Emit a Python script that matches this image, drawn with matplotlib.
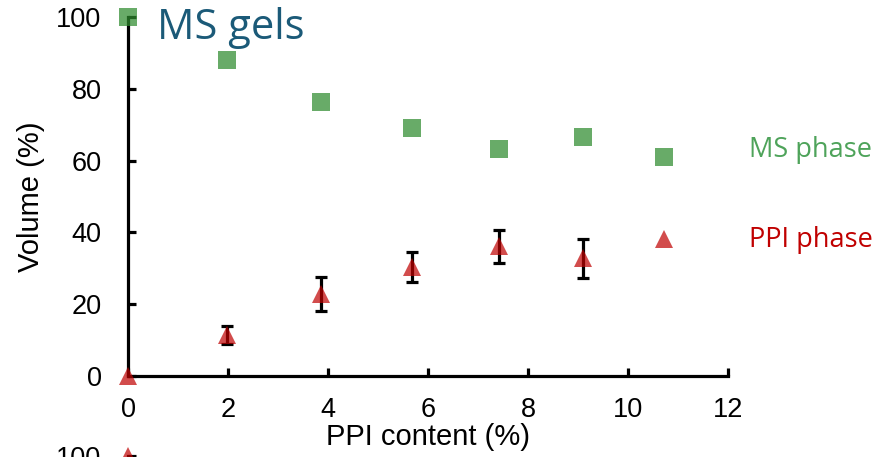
import numpy as np
import matplotlib.pyplot as plt

# PPI content (%) and phase volumes (%)
ppi = [0, 1.97, 3.85, 5.67, 7.41, 9.09, 10.71]
ms_phase = [100, 88.0, 76.4, 69.0, 63.2, 66.5, 61.0]
ppi_phase = [0, 11.3, 22.8, 30.3, 36.1, 32.8, 38.3]
ppi_err = [0, 2.5, 4.8, 4.2, 4.7, 5.4, 0]

# top of the next panel (cut off at the bottom edge)
next_x = [0]
next_y = [100]
next_err = [3]

green = '#2e8b2e'
red = '#C00000'

plt.rcParams['font.family'] = ['Liberation Sans', 'DejaVu Sans']

fig = plt.figure(figsize=(8.88, 4.57), dpi=100)
ax = fig.add_axes([128/888, 1 - 376/457, 600/888, 359/457])

ax.errorbar(ppi[1:6], ppi_phase[1:6], yerr=ppi_err[1:6], fmt='none', ecolor='black',
            elinewidth=2.3, capsize=4.5, capthick=2.3, zorder=2)
ax.plot(ppi, ms_phase, 's', color=green, alpha=0.72, markersize=13.5,
        markeredgewidth=0, clip_on=False, zorder=3)
ax.plot(ppi, ppi_phase, '^', color=red, alpha=0.7, markersize=13,
        markeredgewidth=0, clip_on=False, zorder=3)

ax.set_xlim(0, 12)
ax.set_ylim(0, 100)
ax.set_xticks(np.arange(0, 13, 2))
ax.set_yticks(np.arange(0, 101, 20))
for s in ['top', 'right']:
    ax.spines[s].set_visible(False)
for s in ['left', 'bottom']:
    ax.spines[s].set_linewidth(2.3)
ax.tick_params(axis='both', direction='in', length=6, width=2.3, labelsize=19.5)
ax.tick_params(axis='x', pad=15)
ax.tick_params(axis='y', pad=19)

ax.set_xlabel('PPI content (%)', fontsize=21)
ax.xaxis.set_label_coords(0.5, -0.13)
ax.set_ylabel('Volume (%)', fontsize=21)
ax.yaxis.set_label_coords(-0.138, 0.5)

fig.text(157/888, 1 - 28/457, 'MS gels', fontsize=30, color='#1b5a78',
         family='Open Sans', va='center', ha='left')
fig.text(749/888, 1 - 150/457, 'MS phase', fontsize=19.5, color='#4ea35a',
         family='Open Sans', va='center', ha='left')
fig.text(749/888, 1 - 240/457, 'PPI phase', fontsize=19.5, color=red,
         family='Open Sans', va='center', ha='left')

# next panel, only its top edge is visible
ax2 = fig.add_axes([128/888, 1 - 456/457 - 359/457, 600/888, 359/457])
ax2.errorbar(next_x, next_y, yerr=next_err, fmt='none', ecolor='black',
             elinewidth=2.3, capsize=4.5, capthick=2.3, zorder=2)
ax2.plot(next_x, next_y, '^', color=red, alpha=0.7, markersize=13,
         markeredgewidth=0, clip_on=False, zorder=3)
ax2.set_xlim(0, 12)
ax2.set_ylim(0, 100)
ax2.set_xticks([])
ax2.set_yticks([100])
for s in ['top', 'right', 'bottom']:
    ax2.spines[s].set_visible(False)
ax2.spines['left'].set_linewidth(2.3)
ax2.tick_params(axis='y', direction='in', length=6, width=2.3, labelsize=19.5, pad=19)

fig.savefig('out.png', dpi=100)
